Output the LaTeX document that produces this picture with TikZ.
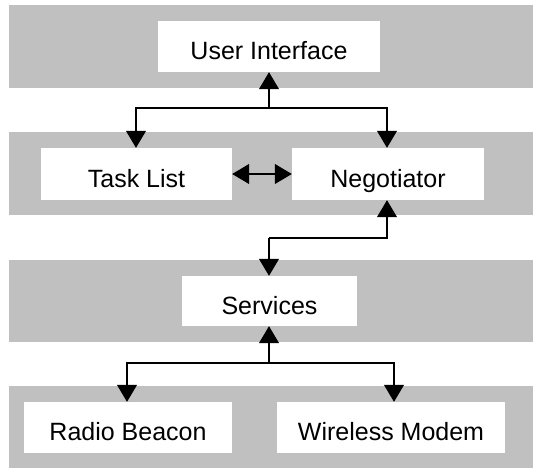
\documentclass[tikz,border=0pt]{standalone}
\usepackage{fontspec}
\setmainfont{Liberation Sans}
\usetikzlibrary{arrows.meta}
\definecolor{bandgray}{HTML}{C0C0C0}
\tikzset{
  band/.style={fill=bandgray, draw=none},
  modbox/.style={fill=white, draw=none, inner sep=0pt, font=\fontsize{25}{29}\selectfont,
                 text height=26pt, text depth=0pt},
  link/.style={line width=1.2pt, draw=black},
  tip/.tip={Triangle[length=17pt, width=20pt]},
}
\begin{document}
\begin{tikzpicture}[x=1pt, y=-1pt]
  \useasboundingbox (0,0) rectangle (533,469);
  % layer bands
  \path[band] (8.5,5)   rectangle (533,88)  node[coordinate] (band1) {};
  \path[band] (8.5,132) rectangle (533,215) node[coordinate] (band2) {};
  \path[band] (8.5,260) rectangle (533,342) node[coordinate] (band3) {};
  \path[band] (8.5,386) rectangle (533,468) node[coordinate] (band4) {};
  % modules
  \node[modbox, minimum width=222pt, minimum height=51pt] (ui)    at (269,46.5)   {User Interface};
  \node[modbox, minimum width=191pt, minimum height=52pt] (tasks) at (136.5,174)  {Task List};
  \node[modbox, minimum width=192pt, minimum height=52pt] (neg)   at (388,174)    {Negotiator};
  \node[modbox, minimum width=175pt, minimum height=50pt] (svc)   at (269.5,301)  {Services};
  \node[modbox, minimum width=208pt, minimum height=51pt] (radio) at (128,427.5)  {Radio Beacon};
  \node[modbox, minimum width=228pt, minimum height=51pt] (modem) at (391,427.5)  {Wireless Modem};
  % junction points
  \coordinate (j1) at (269,108);
  \coordinate (j2) at (269,238);
  \coordinate (j3) at (269,363);
  % connectors
  \draw[link, tip-] (ui.south) -- (j1);
  \draw[link, -tip] (j1) -| ([xshift=-0.5pt]tasks.north);
  \draw[link, -tip] (j1) -| ([xshift=-1pt]neg.north);
  \draw[link, tip-tip] (tasks.east) -- (neg.west);
  \draw[link, tip-] ([xshift=-1pt]neg.south) |- (j2);
  \draw[link, -tip] (j2) -- (j2 |- svc.north);
  \draw[link, tip-] (svc.south -| j3) -- (j3);
  \draw[link, -tip] (j3) -| ([xshift=-1pt]radio.north);
  \draw[link, -tip] (j3) -| ([xshift=3pt]modem.north);
\end{tikzpicture}
\end{document}
